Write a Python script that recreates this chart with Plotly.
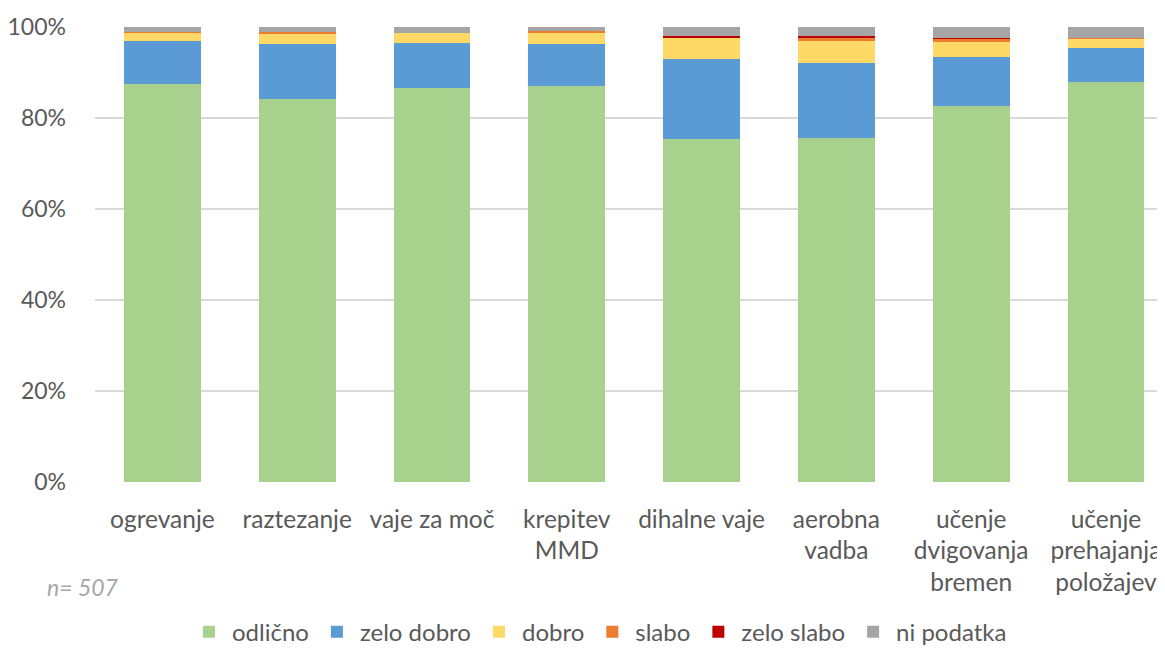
import plotly.graph_objects as go

categories = ["ogrevanje", "raztezanje", "vaje za moč", "krepitev<br>MMD", "dihalne vaje",
              "aerobna<br>vadba", "učenje<br>dvigovanja<br>bremen", "učenje<br>prehajanja<br>položajev"]

odlicno    = [87.5, 84.2, 86.6, 87.0, 75.4, 75.6, 82.6, 88.0]
zelo_dobro = [9.5, 12.1, 9.9, 9.3, 17.6, 16.4, 10.7, 7.3]
dobro      = [1.75, 2.2, 2.2, 2.6, 4.6, 5.0, 3.3, 2.1]
slabo      = [0.25, 0.4, 0.0, 0.2, 0.1, 0.8, 0.8, 0.1]
zelo_slabo = [0.0, 0.1, 0.0, 0.0, 0.3, 0.2, 0.2, 0.0]
ni_podatka = [1.0, 1.0, 1.3, 0.9, 2.0, 2.0, 2.4, 2.5]

y_ticks = [0, 20, 40, 60, 80, 100]
y_tick_labels = ["0%", "20%", "40%", "60%", "80%", "100%"]

series = [
    ("odlično", odlicno, "#A9D18E"),
    ("zelo dobro", zelo_dobro, "#5B9BD5"),
    ("dobro", dobro, "#FFD966"),
    ("slabo", slabo, "#ED7D31"),
    ("zelo slabo", zelo_slabo, "#C00000"),
    ("ni podatka", ni_podatka, "#A5A5A5"),
]

FONT = "Lato"
TXT = "#595959"

fig = go.Figure()
for name, vals, col in series:
    fig.add_trace(go.Bar(
        x=categories, y=vals, name=name,
        marker=dict(color=col, line=dict(width=0)),
        hoverinfo="x+y+name",
    ))

# page body has an 8px margin, so the figure is laid out 8px smaller/offset
fig.update_layout(
    barmode="stack",
    bargap=0.43,
    width=1157, height=640,
    margin=dict(l=87, r=0, t=19, b=166, autoexpand=False),
    paper_bgcolor="white", plot_bgcolor="white",
    font=dict(family=FONT, size=24, color=TXT),
    showlegend=True,
    legend=dict(orientation="h", x=0.471, xanchor="center", y=-0.33, yanchor="middle",
                traceorder="normal", font=dict(size=24, color=TXT),
                itemwidth=36, tracegroupgap=0),
    annotations=[dict(text="<i>n= 507</i>", x=-0.047, y=-0.231, xref="paper", yref="paper",
                      xanchor="left", yanchor="middle", showarrow=False,
                      font=dict(size=23, color="#A6A6A6", family=FONT))],
)
fig.update_xaxes(
    range=[-0.5, 7.438], showgrid=False, showline=False, zeroline=False, automargin=False,
    tickfont=dict(size=24.5, color=TXT), ticks="", ticklabelstandoff=20, tickangle=0,
)
fig.update_yaxes(
    range=[0, 100], tickmode="array", tickvals=y_ticks, ticktext=y_tick_labels,
    showgrid=True, gridcolor="#D9D9D9", gridwidth=1.5, zeroline=False, automargin=False,
    showline=False, ticks="", tickfont=dict(size=23, color=TXT), ticklabelstandoff=28,
)

fig.write_html("out.html")
